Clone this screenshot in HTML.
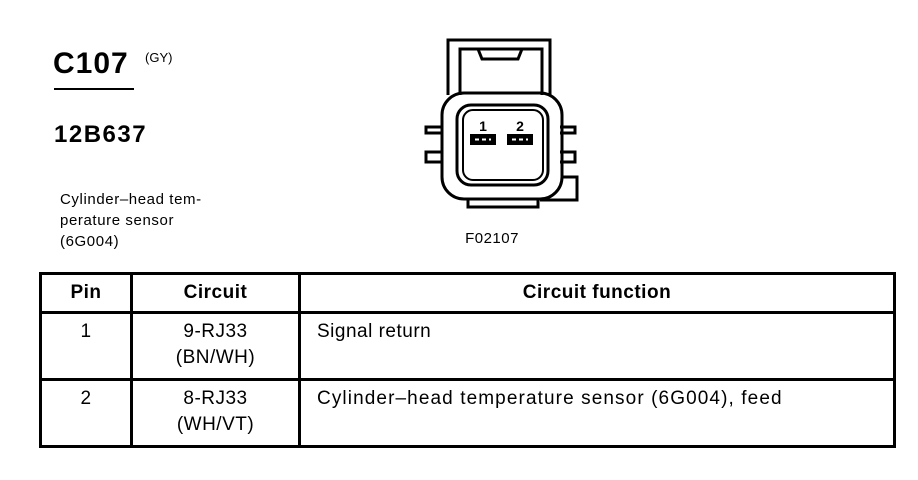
<!DOCTYPE html>
<html><head><style>
body{margin:0;width:918px;height:480px;background:#fff;position:relative;font-family:"Liberation Sans",Arial,sans-serif;color:#000;overflow:hidden}
.a{position:absolute;white-space:nowrap}
table{position:absolute;left:39px;top:272px;border-collapse:collapse;width:857px}
td{border:3px solid #000;font-size:19px;vertical-align:top;padding:0;line-height:26px;letter-spacing:0.5px}
.w{letter-spacing:1.1px}
</style></head><body>
<div class="a" style="left:53px;top:47px;font-size:30px;font-weight:bold;letter-spacing:1px">C107</div>
<div class="a" style="left:145px;top:50px;font-size:13px">(GY)</div>
<div class="a" style="left:54px;top:88px;width:80px;border-top:2px solid #000"></div>
<div class="a" style="left:54px;top:121px;font-size:24px;font-weight:bold;letter-spacing:1.5px">12B637</div>
<div class="a" style="left:60px;top:189px;font-size:15px;line-height:21px;letter-spacing:0.6px">Cylinder–head tem-<br>perature sensor<br>(6G004)</div>
<svg class="a" style="left:0;top:0" width="918" height="270">
<g fill="none" stroke="#000" stroke-width="3">
<path d="M448 95 V40 H550 V95"/>
<path d="M460 95 V49 H542 V95"/>
<path d="M478 49 L482 59 H518 L522 49"/>
<path d="M442 127 H426 V133 H442 M442 152 H426 V162 H442"/>
<path d="M560 127 H575 V133 H560 M560 152 H575 V162 H560"/>
<path d="M562 177 H577 V200 H540"/>
<path d="M468 198 V207 H538 V198"/>
<rect x="442" y="93" width="120" height="106" rx="22"/>
<rect x="457" y="105" width="91" height="80" rx="14"/>
<rect x="463" y="110" width="80" height="70" rx="10" stroke-width="2"/>
</g>
<rect x="470" y="134" width="26" height="11" fill="#000"/>
<rect x="507" y="134" width="26" height="11" fill="#000"/>
<path d="M475 139.5 H491 M512 139.5 H528" stroke="#fff" stroke-width="2" stroke-dasharray="4 3"/>
<text x="483" y="131" font-size="14" font-weight="bold" text-anchor="middle" font-family="Liberation Sans">1</text>
<text x="520" y="131" font-size="14" font-weight="bold" text-anchor="middle" font-family="Liberation Sans">2</text>
<text x="492" y="243" font-size="15" text-anchor="middle" font-family="Liberation Sans" letter-spacing="0.5">F02107</text>
</svg>
<table>
<tr style="height:39px"><td style="width:88px;text-align:center;font-weight:bold;vertical-align:middle">Pin</td><td style="width:165px;text-align:center;font-weight:bold;vertical-align:middle">Circuit</td><td style="text-align:center;font-weight:bold;vertical-align:middle">Circuit function</td></tr>
<tr style="height:67px"><td style="text-align:center;padding-top:5px">1</td><td style="text-align:center;padding-top:5px">9-RJ33<br>(BN/WH)</td><td style="padding:5px 0 0 16px">Signal return</td></tr>
<tr style="height:67px"><td style="text-align:center;padding-top:5px">2</td><td style="text-align:center;padding-top:5px">8-RJ33<br>(WH/VT)</td><td class="w" style="padding:5px 0 0 16px">Cylinder–head temperature sensor (6G004), feed</td></tr>
</table>
</body></html>
